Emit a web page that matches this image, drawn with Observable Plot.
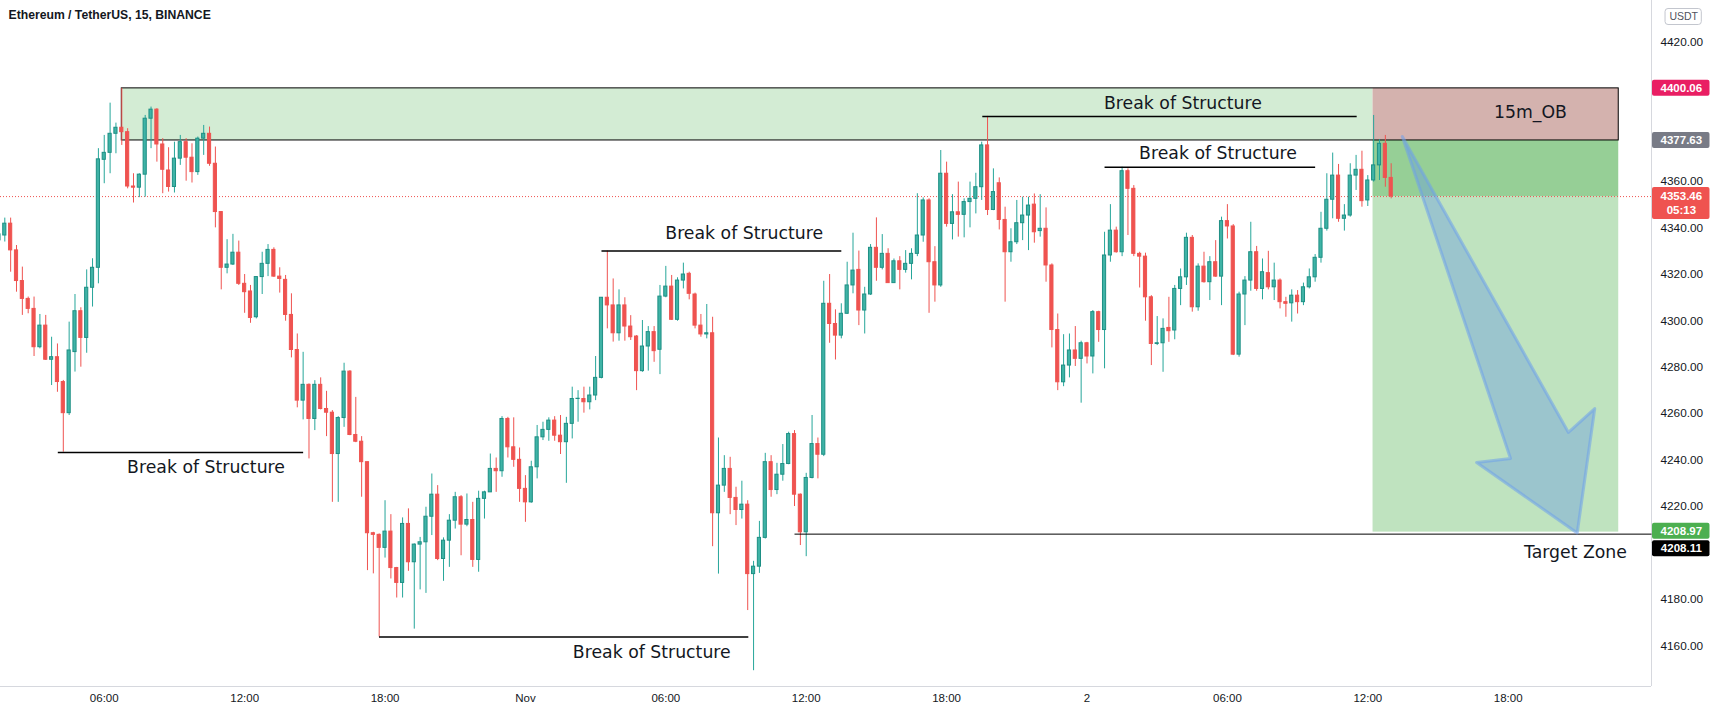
<!DOCTYPE html>
<html><head><meta charset="utf-8">
<script src="https://cdn.jsdelivr.net/npm/d3@7"></script>
<script src="https://cdn.jsdelivr.net/npm/@observablehq/plot@0.6"></script>
<style>body{margin:0;background:#fff;}#chart svg{display:block}</style>
</head><body><div id="chart"></div>
<script>
// ETH/USDT 15m candles, one slot per candle (slot 0 = 31 Oct 01:30)
const open = [
4334.6,4336.7,4341.8,4330.3,4317.1,4309.4,4305.1,4288.6,4297.9,4283.2,
4284.3,4273.6,4260.2,4286.5,4304.1,4292.6,4314.2,4322.8,4369.3,4372.3,
4380.5,4383.1,4381.2,4357.8,4357.3,4362.9,4387.0,4390.9,4375.9,4364.7,
4357.6,4369.8,4376.9,4370.2,4364.0,4378.4,4380.5,4367.6,4346.8,4322.8,
4324.2,4329.3,4315.9,4312.6,4301.5,4318.8,4324.5,4330.5,4319.0,4317.6,
4302.5,4287.4,4265.6,4272.4,4257.7,4272.4,4262.0,4260.4,4242.6,4258.1,
4278.1,4250.8,4247.9,4239.1,4208.5,4207.8,4202.2,4209.2,4193.5,4187.1,
4212.5,4196.0,4203.6,4204.6,4215.6,4225.1,4197.4,4205.3,4213.9,4224.0,
4212.2,4214.2,4197.0,4223.3,4226.1,4236.2,4235.2,4257.7,4245.5,4240.1,
4227.6,4221.8,4236.9,4249.8,4253.0,4257.0,4250.5,4247.7,4255.6,4266.3,
4266.3,4264.9,4267.8,4275.4,4309.9,4306.6,4294.6,4306.6,4297.5,4293.2,
4278.3,4288.9,4295.1,4287.5,4310.4,4314.7,4300.4,4317.3,4320.2,4311.3,
4297.9,4294.1,4294.6,4217.1,4229.0,4236.2,4223.7,4218.5,4220.8,4190.9,
4194.1,4206.5,4239.1,4227.1,4233.7,4238.3,4251.2,4225.1,4208.9,4232.3,
4246.9,4242.3,4307.3,4298.6,4293.6,4303.0,4315.2,4321.9,4304.4,4311.3,
4331.4,4322.8,4328.8,4316.2,4325.6,4321.9,4324.5,4328.8,4336.7,4351.8,
4325.2,4315.2,4363.3,4341.7,4346.7,4345.6,4351.1,4352.5,4357.5,4375.5,
4347.7,4359.2,4343.4,4329.5,4333.8,4342.0,4345.3,4350.0,4338.6,4339.6,
4323.8,4296.0,4273.5,4280.7,4287.2,4283.6,4290.3,4284.6,4303.7,4296.0,
4328.1,4338.8,4329.5,4364.4,4356.8,4328.8,4327.6,4310.1,4290.0,4290.3,
4296.9,4295.8,4313.7,4318.7,4335.7,4305.8,4323.3,4316.6,4325.2,4319.0,
4342.9,4340.6,4285.4,4311.3,4317.3,4329.5,4313.7,4320.5,4314.4,4317.3,
4308.0,4307.5,4310.8,4308.0,4314.4,4318.7,4327.1,4339.6,4352.1,4362.5,
4343.9,4345.3,4362.5,4365.0,4351.8,4360.4,4366.9,4376.2,4361.5];
const high = [
4339.0,4344.2,4344.2,4332.4,4323.1,4310.2,4310.2,4302.7,4302.3,4292.9,
4290.0,4274.3,4299.4,4311.3,4305.6,4321.9,4326.7,4374.1,4379.8,4393.7,
4385.1,4400.06,4382.7,4363.3,4363.3,4388.4,4392.0,4391.3,4378.4,4374.5,
4376.9,4379.8,4378.4,4376.2,4379.1,4384.1,4383.4,4374.8,4347.0,4334.9,
4337.2,4334.3,4319.9,4315.2,4319.0,4329.5,4332.8,4331.4,4322.8,4319.5,
4311.6,4294.3,4286.4,4272.8,4274.2,4275.4,4269.6,4261.3,4258.7,4281.7,
4278.5,4267.0,4250.1,4239.1,4208.9,4208.2,4222.5,4216.5,4193.8,4215.1,
4219.0,4203.9,4206.7,4219.7,4234.0,4229.0,4206.5,4216.5,4226.1,4224.7,
4225.4,4221.8,4226.6,4226.6,4242.6,4240.9,4258.7,4258.4,4258.2,4245.2,
4233.3,4239.5,4254.9,4256.3,4258.2,4258.7,4259.2,4258.4,4271.4,4269.9,
4271.4,4271.4,4284.6,4310.0,4330.0,4318.0,4313.3,4309.9,4302.2,4293.6,
4300.1,4297.5,4297.5,4315.2,4323.4,4319.5,4318.5,4324.8,4320.9,4311.9,
4302.7,4307.0,4301.5,4249.5,4241.9,4241.2,4228.3,4230.9,4222.5,4196.4,
4213.6,4242.9,4241.9,4238.6,4246.7,4252.0,4252.7,4225.4,4234.3,4259.2,
4249.5,4317.0,4319.9,4304.7,4307.3,4325.2,4337.7,4330.0,4314.4,4332.8,
4344.3,4337.1,4331.0,4326.6,4327.6,4330.2,4331.0,4354.7,4352.9,4352.5,
4331.9,4373.3,4368.3,4354.3,4359.7,4352.5,4359.7,4363.5,4376.9,4388.0,
4365.4,4361.5,4348.9,4339.6,4351.8,4353.2,4353.2,4354.6,4354.3,4348.6,
4324.5,4302.9,4294.0,4294.3,4297.5,4291.2,4290.7,4304.4,4304.1,4338.1,
4350.0,4340.3,4366.1,4365.4,4358.2,4329.5,4329.1,4310.8,4301.8,4300.8,
4310.1,4315.2,4322.3,4337.7,4336.7,4324.5,4329.5,4327.6,4334.5,4344.6,
4350.0,4341.4,4312.3,4319.0,4342.4,4332.0,4326.6,4329.9,4324.8,4318.0,
4310.1,4313.3,4313.0,4316.2,4322.3,4328.5,4346.7,4363.3,4372.2,4367.3,
4350.0,4367.6,4371.2,4373.0,4362.5,4388.4,4377.9,4379.8,4367.6];
const low = [
4333.5,4333.9,4320.9,4312.3,4302.3,4303.0,4284.6,4287.9,4282.9,4272.1,
4269.2,4243.4,4259.2,4277.9,4280.0,4286.0,4305.9,4315.9,4359.0,4363.3,
4371.9,4375.5,4356.8,4350.7,4353.0,4353.2,4374.1,4368.3,4354.7,4355.4,
4355.0,4366.9,4360.1,4359.3,4362.6,4371.2,4366.5,4340.0,4313.3,4320.2,
4323.8,4315.2,4303.2,4298.9,4300.8,4311.3,4319.0,4318.7,4311.9,4299.8,
4284.0,4262.5,4257.3,4240.5,4252.7,4261.6,4250.1,4221.8,4221.8,4254.1,
4250.5,4247.5,4224.0,4192.4,4191.0,4163.8,4197.8,4188.8,4180.6,4180.6,
4192.1,4167.2,4184.1,4182.6,4207.5,4196.7,4187.8,4193.8,4210.3,4198.8,
4211.3,4193.8,4191.7,4214.6,4226.1,4226.1,4232.6,4240.9,4236.9,4221.8,
4213.2,4221.4,4231.9,4248.4,4248.1,4248.1,4242.4,4230.0,4249.1,4256.3,
4260.2,4261.6,4265.6,4275.0,4296.5,4290.8,4291.2,4291.2,4291.5,4269.9,
4277.8,4278.3,4282.1,4276.8,4309.9,4300.1,4299.8,4313.7,4309.0,4296.5,
4292.9,4292.2,4202.7,4190.9,4226.1,4216.5,4211.8,4214.6,4175.2,4149.3,
4191.2,4206.0,4224.0,4225.1,4230.9,4238.0,4220.0,4203.2,4198.4,4231.9,
4231.9,4241.5,4290.3,4283.1,4292.2,4302.7,4311.6,4297.9,4294.3,4310.9,
4317.0,4321.9,4316.2,4316.2,4313.3,4320.5,4317.6,4327.6,4333.8,4303.2,
4308.0,4314.4,4340.3,4334.8,4336.0,4335.7,4340.0,4346.0,4351.8,4345.3,
4347.4,4339.1,4308.0,4325.2,4332.8,4334.5,4330.2,4333.4,4336.0,4316.6,
4288.3,4269.9,4271.6,4275.4,4280.3,4264.5,4281.4,4277.1,4290.7,4279.3,
4325.2,4329.1,4327.6,4336.7,4327.6,4314.1,4299.8,4280.7,4289.3,4277.8,
4290.7,4291.8,4306.5,4315.2,4303.7,4304.1,4316.2,4308.7,4318.7,4306.5,
4335.2,4285.0,4284.3,4297.9,4312.7,4312.7,4309.0,4313.3,4308.7,4305.1,
4301.5,4299.4,4302.9,4306.5,4313.7,4316.6,4324.8,4338.6,4343.9,4342.4,
4338.6,4344.6,4356.1,4348.9,4349.2,4359.7,4360.4,4357.5,4352.5];
const close = [
4337.2,4341.8,4330.3,4317.1,4309.4,4305.1,4288.6,4297.9,4283.2,4284.3,
4273.6,4260.2,4287.2,4304.1,4292.6,4314.2,4322.8,4369.5,4372.3,4380.5,
4383.1,4381.2,4357.8,4357.3,4362.9,4387.0,4390.9,4375.9,4365.0,4357.6,
4369.8,4376.9,4370.2,4364.0,4378.4,4380.5,4367.6,4346.8,4322.8,4324.2,
4329.3,4315.9,4312.3,4301.2,4318.8,4324.5,4330.5,4319.0,4318.0,4302.5,
4287.4,4265.6,4272.4,4257.7,4272.4,4262.0,4260.4,4242.6,4258.1,4278.1,
4250.8,4247.9,4239.1,4208.5,4207.8,4202.2,4209.2,4193.5,4187.1,4212.5,
4196.0,4203.6,4204.6,4215.6,4225.1,4197.4,4205.3,4213.9,4224.0,4212.2,
4214.2,4197.0,4223.3,4226.1,4236.2,4235.2,4257.7,4245.5,4240.1,4227.6,
4221.8,4236.9,4249.8,4253.0,4257.0,4250.5,4247.7,4255.6,4266.3,4266.4,
4264.9,4267.8,4275.4,4309.9,4306.6,4294.6,4306.6,4297.5,4292.9,4278.3,
4288.9,4295.1,4286.9,4310.4,4314.7,4300.4,4317.3,4319.9,4311.6,4297.9,
4294.1,4294.6,4217.1,4229.0,4236.2,4223.7,4218.5,4220.8,4190.9,4194.1,
4206.5,4239.1,4227.1,4233.7,4238.3,4251.2,4225.1,4208.9,4232.3,4246.9,
4242.3,4307.3,4298.6,4293.6,4303.0,4315.2,4321.6,4304.4,4311.3,4331.4,
4322.8,4328.8,4316.2,4325.6,4321.9,4324.5,4328.8,4336.7,4351.8,4325.2,
4315.2,4363.3,4341.7,4346.7,4345.6,4351.1,4352.5,4357.5,4375.5,4347.7,
4355.4,4343.4,4329.5,4333.8,4342.0,4345.3,4349.6,4338.1,4339.6,4323.8,
4296.0,4273.5,4280.7,4287.2,4283.6,4290.3,4284.6,4303.7,4296.0,4328.1,
4338.8,4329.5,4364.4,4356.8,4328.8,4327.6,4310.1,4290.0,4290.3,4296.5,
4295.5,4313.7,4318.7,4335.7,4305.8,4323.3,4316.6,4325.2,4319.0,4342.9,
4340.6,4285.4,4311.3,4317.3,4329.5,4313.7,4320.9,4314.4,4317.3,4308.0,
4307.3,4310.8,4308.0,4314.4,4318.7,4327.1,4339.6,4352.1,4362.5,4343.9,
4345.3,4362.5,4365.0,4351.5,4360.4,4366.9,4376.2,4361.5,4353.46];

// axis ticks (slot index of each labelled time) and their labels
const tickSlots = [18, 42, 66, 90, 114, 138, 162, 186, 210, 234, 258];
const tickLabels = ["06:00","12:00","18:00","Nov","06:00","12:00","18:00","2","06:00","12:00","18:00"];
// price labels visible on the scale (4200 and 4380 are covered by price tags)
const priceTicks = [4160,4180,4220,4240,4260,4280,4300,4320,4340,4360,4400,4420];

// visible window
const slotDomain = [0.265, 282.5];
const priceDomain = [4142.5, 4437.9];

// "Break of Structure" lines (start slot, end slot, price) and label anchors
const bosStart = [10.06, 64.97, 103.0, 168.1, 189.0];
const bosEnd   = [52.0, 128.1, 144.0, 232.1, 225.0];
const bosPrice = [4243.3, 4163.8, 4330.0, 4388.0, 4366.1];
const bosLabelSlot  = [35.4, 111.6, 127.4, 202.4, 208.4];
const bosLabelPrice = [4236.9, 4157.3, 4337.7, 4393.4, 4371.9];
const bosLabel = "Break of Structure";

// order block and short position
const obTop = 4400.06, obBottom = 4377.63;
const obStart = 21.0, obSplit = 234.9, obEnd = 276.9;
const obLabel = "15m_OB", obLabelSlot = 261.8, obLabelPrice = 4389.8;
const entryPrice = 4377.63, lastPrice = 4353.46, takeProfit = 4208.97;
const targetLinePrice = 4208.11, targetLineStart = 136.0;
const targetLabel = "Target Zone", targetLabelSlot = 269.5, targetLabelPrice = 4200.2;

// arrow outline (slot, price)
const arrowSlot  = [239.9, 258.4, 252.6, 269.8, 272.8, 268.3];
const arrowPrice = [4379.3, 4240.7, 4238.95, 4208.6, 4262.2, 4251.9];

// price-scale tags
const tagPrices = [4400.06, 4377.63, 4353.46, 4208.97, 4208.11];
const tagTexts  = ["4400.06", "4377.63", "4353.46", "4208.97", "4208.11"];
const countdown = "05:13";
const title = "Ethereum / TetherUS, 15, BINANCE";
const currency = "USDT";

// ---------- build ----------
const teal = "#26a69a", red = "#ef5350", ink = "#131722";
const candles = open.map((o, j) => ({j, o, h: high[j], l: low[j], c: close[j]}));
const ups = candles.filter(d => d.c >= d.o);
const downs = candles.filter(d => d.c < d.o);
const bos = bosStart.map((s, i) => ({s, e: bosEnd[i], p: bosPrice[i], ls: bosLabelSlot[i], lp: bosLabelPrice[i]}));
const arrow = arrowSlot.map((s, i) => ({s, p: arrowPrice[i]}));
const tickMap = new Map(tickSlots.map((s, i) => [s, tickLabels[i]]));
const xMax = slotDomain[1], tagW = 10;
const annFont = "DejaVu Sans, Verdana, sans-serif";
const uiFont = "Liberation Sans, Arial, sans-serif";

function zone(x1, x2, y1, y2, fill, extra = {}) {
  return Plot.rect([0], {x1: () => x1, x2: () => x2, y1: () => y1, y2: () => y2, fill, ...extra});
}
function tag(price, txt, bg, above, below, shift) {
  return [
    Plot.rect([price], {x1: () => xMax, x2: () => xMax + tagW, y1: d => d, y2: d => d,
      insetTop: -above, insetBottom: -below, insetLeft: 1, dy: shift, fill: bg, rx: 2}),
    Plot.text([price], {x: () => xMax + tagW / 2 + 0.1, y: d => d, text: () => txt, dy: shift,
      fill: "#fff", fontSize: 11.5, fontWeight: "bold", fontFamily: uiFont})
  ];
}

const chart = Plot.plot({
  width: 1715, height: 712,
  marginLeft: 0, marginRight: 64, marginTop: 0, marginBottom: 26,
  style: {fontFamily: uiFont, color: ink, background: "#fff"},
  x: {type: "linear", domain: slotDomain, axis: null},
  y: {domain: priceDomain, axis: null},
  marks: [
    // zones
    zone(obStart, obSplit, obBottom, obTop, "#d3ecd4"),
    zone(obSplit, obEnd, obBottom, obTop, "#d4b2ae"),
    zone(obSplit, obEnd, lastPrice, entryPrice, "#96cf96"),
    zone(obSplit, obEnd, takeProfit, lastPrice, "#bfe3bf"),
    zone(obStart, obEnd, obBottom, obTop, "none", {stroke: "#000", strokeWidth: 1}),
    // frame separators
    Plot.ruleX([xMax], {stroke: "#d6d8de"}),
    Plot.ruleY([priceDomain[0]], {stroke: "#d6d8de"}),
    // axes
    Plot.axisX(tickSlots, {tickSize: 0, tickPadding: 7, tickFormat: d => tickMap.get(d), fontSize: 11.5, fill: ink}),
    Plot.axisY(priceTicks, {anchor: "right", tickSize: 0, tickPadding: 9, tickFormat: d3.format(".2f"), fontSize: 11.8, fill: ink, textAnchor: "start"}),
    // current price line
    Plot.ruleY([lastPrice], {stroke: red, strokeDasharray: "1,2", strokeWidth: 1}),
    // candles
    Plot.ruleX(ups, {x: "j", y1: "l", y2: "h", stroke: teal, strokeWidth: 1}),
    Plot.ruleX(downs, {x: "j", y1: "l", y2: "h", stroke: red, strokeWidth: 1}),
    Plot.rect(ups, {x1: d => d.j - 0.27, x2: d => d.j + 0.27, y1: "o", y2: "c", fill: "#3fb3a6", stroke: "#1d8f84", strokeWidth: 1}),
    Plot.rect(downs, {x1: d => d.j - 0.27, x2: d => d.j + 0.27, y1: "o", y2: "c", fill: red, stroke: red, strokeWidth: 1}),
    // structure lines
    Plot.link(bos, {x1: "s", x2: "e", y1: "p", y2: "p", stroke: "#000", strokeWidth: 1.5}),
    Plot.text(bos, {x: "ls", y: "lp", text: () => bosLabel, fontSize: 17.3, fontFamily: annFont, fill: ink}),
    Plot.link([0], {x1: () => targetLineStart, x2: () => xMax, y1: () => targetLinePrice, y2: () => targetLinePrice, stroke: "#000", strokeWidth: 1}),
    Plot.text([0], {x: () => targetLabelSlot, y: () => targetLabelPrice, text: () => targetLabel, fontSize: 17.3, fontFamily: annFont, fill: ink}),
    Plot.text([0], {x: () => obLabelSlot, y: () => obLabelPrice, text: () => obLabel, fontSize: 17.3, fontFamily: annFont, fill: ink}),
    // arrow
    Plot.line(arrow, {x: "s", y: "p", curve: "linear-closed", fill: "rgb(105,155,225)", fillOpacity: 0.42,
      stroke: "rgb(110,160,235)", strokeOpacity: 0.55, strokeWidth: 3, strokeLinejoin: "round"}),
    // price tags
    ...tag(tagPrices[0], tagTexts[0], "#e91e63", 8, 8, 0),
    ...tag(tagPrices[1], tagTexts[1], "#787b86", 8, 8, 0),
    ...tag(tagPrices[2], tagTexts[2], "#ef5350", 9, 23, 0),
    Plot.text([lastPrice], {x: () => xMax + tagW / 2 + 0.1, y: d => d, text: () => countdown, dy: 14, fill: "#fff", fontSize: 11.5, fontWeight: "bold", fontFamily: uiFont}),
    ...tag(tagPrices[3], tagTexts[3], "#4caf50", 8, 8, -1),
    ...tag(tagPrices[4], tagTexts[4], "#000000", 8, 8, 14.5),
    // currency badge
    Plot.rect([0], {x1: () => xMax + 2.4, x2: () => xMax + 8.6, y1: () => 4430.8, y2: () => 4430.8, insetTop: -8, insetBottom: -8,
      fill: "#fff", stroke: "#c3c6ce", rx: 3}),
    Plot.text([0], {x: () => xMax + 5.5, y: () => 4430.8, text: () => currency, fontSize: 10.5, fill: "#50535e", fontFamily: uiFont}),
    // title
    Plot.text([title], {frameAnchor: "top-left", dx: 8, dy: 15, lineAnchor: "middle", textAnchor: "start",
      fontWeight: "bold", fontSize: 12.2, fill: ink, fontFamily: uiFont})
  ]
});
document.getElementById("chart").append(chart);
</script>
</body></html>
